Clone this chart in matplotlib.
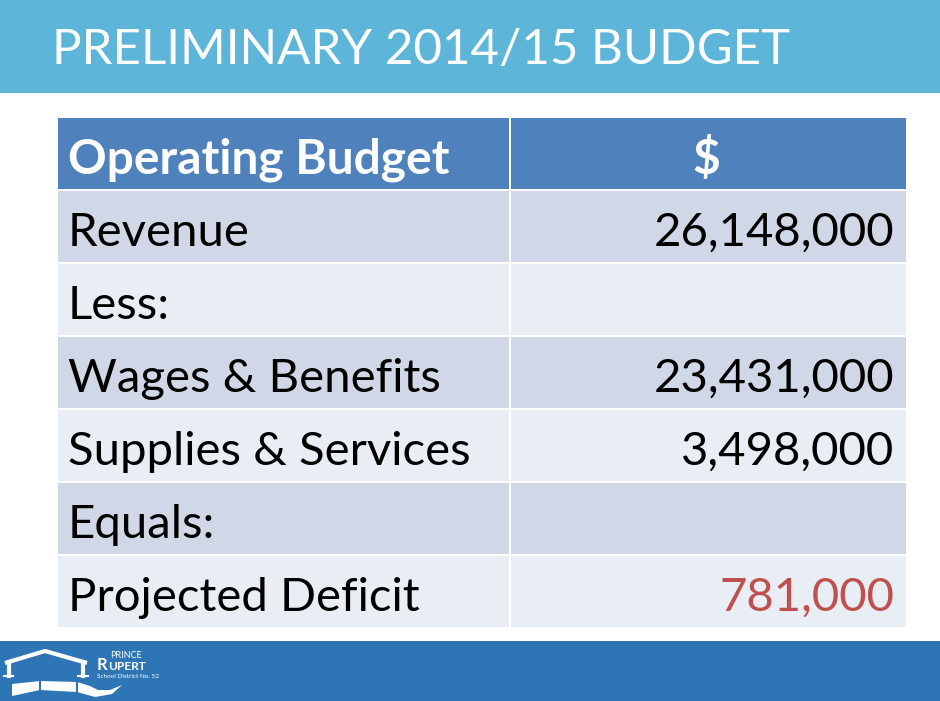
import matplotlib
matplotlib.use('Agg')
import matplotlib.pyplot as plt
from matplotlib.patches import Rectangle, Polygon

title = 'PRELIMINARY 2014/15 BUDGET'
header = ['Operating Budget', '$']
labels = ['Revenue', 'Less:', 'Wages & Benefits', 'Supplies & Services', 'Equals:', 'Projected Deficit']
amounts = ['26,148,000', '', '23,431,000', '3,498,000', '', '781,000']

FONT = 'Lato'
BLUE = '#2E75B6'

fig = plt.figure(figsize=(9.4, 7.01), dpi=100)
ax = fig.add_axes([0, 0, 1, 1])
ax.set_xlim(0, 940)
ax.set_ylim(701, 0)
ax.axis('off')

# title band
ax.add_patch(Rectangle((0, 0), 940, 93, color='#5DB5DA', lw=0))
ax.text(52, 64, title, color='white', fontsize=35.5, family=FONT, va='baseline', ha='left')

# table
x0, xs, x1 = 58, 510, 906
top, rh, gap = 118, 73, 2.5
ax.add_patch(Rectangle((x0, top), xs - x0 - 1, rh - gap, color='#4F81BD', lw=0))
ax.add_patch(Rectangle((xs + 1, top), x1 - xs - 1, rh - gap, color='#4F81BD', lw=0))
ax.text(x0 + 10, top + 56, header[0], color='white', fontsize=34.5, family=FONT, fontweight='bold', va='baseline')
ax.text((xs + x1) / 2 - 2, top + 56, header[1], color='white', fontsize=34.5, family=FONT, fontweight='bold', va='baseline', ha='center')

for i, (lab, amt) in enumerate(zip(labels, amounts)):
    y = top + rh * (i + 1)
    c = '#D0D8E8' if i % 2 == 0 else '#E9EDF4'
    ax.add_patch(Rectangle((x0, y), xs - x0 - 1, rh - gap, color=c, lw=0))
    ax.add_patch(Rectangle((xs + 1, y), x1 - xs - 1, rh - gap, color=c, lw=0))
    ax.text(x0 + 10, y + 55, lab, color='black', fontsize=34, family=FONT, va='baseline')
    col = '#C0504D' if lab == 'Projected Deficit' else 'black'
    ax.text(x1 - 12, y + 55, amt, color=col, fontsize=34, family=FONT, va='baseline', ha='right')

# footer band with logo
ax.add_patch(Rectangle((0, 641), 940, 60, color=BLUE, lw=0))
ax.plot([5, 45, 87], [663, 651, 663], color='white', lw=3, solid_capstyle='butt')
ax.plot([8.5, 8.5], [662, 676], color='white', lw=3)
ax.plot([83, 83], [662, 676], color='white', lw=3)
ax.plot([4, 13], [676, 676], color='white', lw=1.5)
ax.plot([78, 88], [676, 676], color='white', lw=1.5)
ax.add_patch(Polygon([[12, 684], [40, 681], [77, 682], [90, 686], [98, 690], [110, 690], [122, 685],
                      [112, 694], [95, 697], [77, 692], [40, 690], [12, 696]], closed=True, color='white', lw=0))
ax.plot([39.5, 39.5], [679, 692], color=BLUE, lw=1.5)
ax.plot([77, 77], [680, 694], color=BLUE, lw=1.5)
ax.text(110, 656, 'PRINCE', color='white', fontsize=6.5, family=FONT, va='center')
ax.text(97, 669.5, 'R', color='white', fontsize=12, family=FONT, fontweight='bold', va='baseline')
ax.text(108, 669.5, 'UPERT', color='white', fontsize=8.5, family=FONT, fontweight='bold', va='baseline')
ax.text(97, 676, 'School District No. 52', color='white', fontsize=4.6, family=FONT, va='center')

fig.savefig('out.png', dpi=100)
